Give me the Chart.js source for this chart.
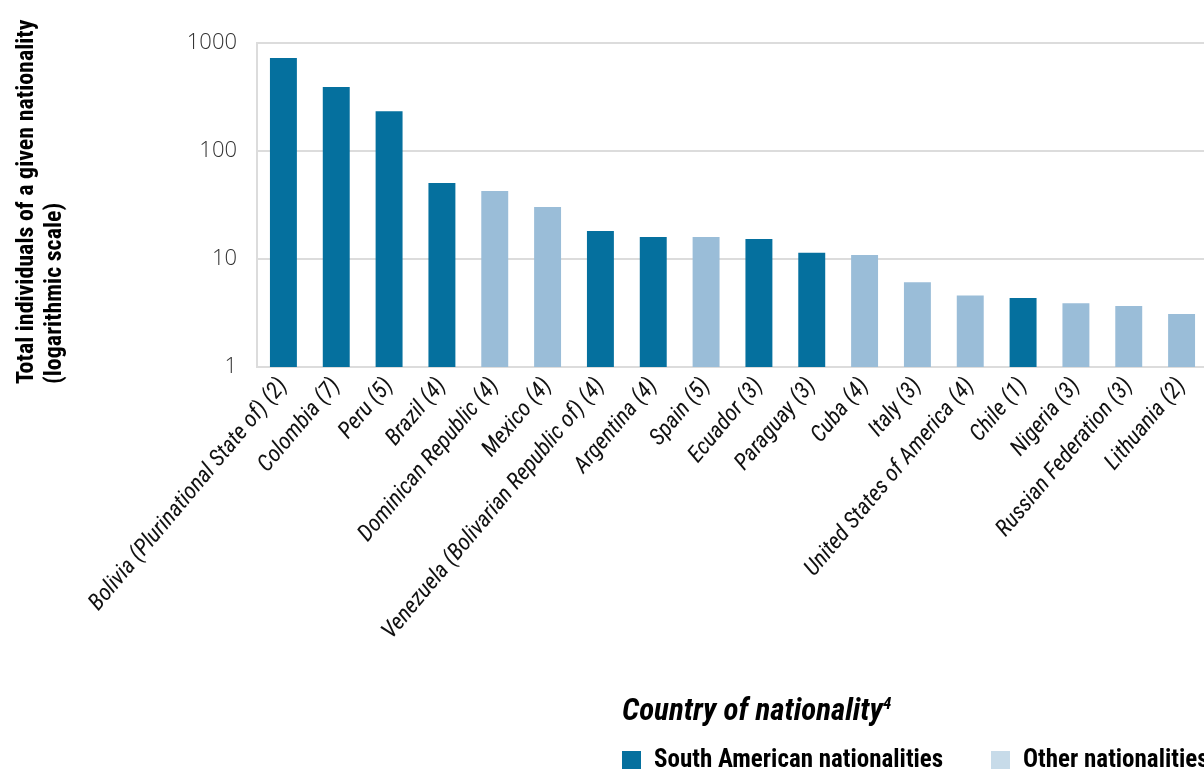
<!DOCTYPE html>
<html>
<head>
<meta charset="utf-8">
<script src="https://cdn.jsdelivr.net/npm/chart.js@4.4.1/dist/chart.umd.min.js"></script>
<style>
  html, body { margin: 0; padding: 0; background: #fff; overflow: hidden; width: 1204px; height: 769px; }
  #wrap { position: absolute; left: 0; top: 0; width: 1214px; height: 769px; }
  .narrow { font-family: "Roboto Condensed", "Liberation Sans Narrow", "Arial Narrow", "Liberation Sans", sans-serif; font-weight: bold; color: #000; line-height: 1; }
  #xtitle { position: absolute; left: 622px; top: 694px; font-size: 31px; font-style: italic; white-space: nowrap; }
  #xtitle sup { font-size: 17px; vertical-align: top; position: relative; top: 1px; }
  .leg { position: absolute; top: 746px; font-size: 25px; white-space: nowrap; }
  .sw { position: absolute; width: 19px; height: 19px; top: 751px; }
</style>
</head>
<body>
<div id="wrap"><canvas id="c" width="1214" height="769"></canvas></div>
<div id="xtitle" class="narrow">Country of nationality<sup>4</sup></div>
<div class="sw" style="left:622px;background:#05709e"></div>
<div class="leg narrow" style="left:654px">South American nationalities</div>
<div class="sw" style="left:991px;background:#c7dbe9"></div>
<div class="leg narrow" style="left:1023px">Other nationalities</div>
<script>
const categories = [
  "Bolivia (Plurinational State of) (2)", "Colombia (7)", "Peru (5)", "Brazil (4)",
  "Dominican Republic (4)", "Mexico (4)", "Venezuela (Bolivarian Republic of) (4)",
  "Argentina (4)", "Spain (5)", "Ecuador (3)", "Paraguay (3)", "Cuba (4)", "Italy (3)",
  "United States of America (4)", "Chile (1)", "Nigeria (3)", "Russian Federation (3)",
  "Lithuania (2)"
];
const totals = [725, 391, 233, 50.6, 42.6, 30.3, 18.2, 16, 16, 15.3, 11.4, 10.9, 6.1, 4.6, 4.35, 3.9, 3.67, 3.1];
const southAmerican = [1, 1, 1, 1, 0, 0, 1, 1, 0, 1, 1, 0, 0, 0, 1, 0, 0, 0];
const yTicks = [1, 10, 100, 1000];
const yTitle = ["Total individuals of a given nationality", "(logarithmic scale)"];

const DARK = "#05709e", LIGHT = "#9abdd8";
const narrow = '"Roboto Condensed", "Liberation Sans Narrow", "Arial Narrow", "Liberation Sans", sans-serif';

// Y-axis title drawn left-aligned (reading direction) starting just below the axis bottom
const yTitlePlugin = {
  id: "yTitleStart",
  afterDraw(chart) {
    const ctx = chart.ctx;
    const y = chart.scales.y;
    ctx.save();
    ctx.fillStyle = "#000";
    ctx.font = "bold 24px " + narrow;
    ctx.textAlign = "left";
    ctx.textBaseline = "alphabetic";
    yTitle.forEach((line, i) => {
      ctx.save();
      ctx.translate(33 + i * 28, y.bottom + 17);
      ctx.rotate(-Math.PI / 2);
      ctx.fillText(line, 0, 0);
      ctx.restore();
    });
    ctx.restore();
  }
};

new Chart(document.getElementById("c"), {
  type: "bar",
  data: {
    labels: categories,
    datasets: [{
      data: totals,
      backgroundColor: southAmerican.map(s => s ? DARK : LIGHT),
      borderWidth: 0,
      barPercentage: 0.51,
      categoryPercentage: 1.0
    }]
  },
  plugins: [yTitlePlugin],
  options: {
    responsive: false,
    animation: false,
    devicePixelRatio: 1,
    layout: { padding: { top: 43, right: 6, bottom: 82, left: 0 } },
    plugins: { legend: { display: false }, tooltip: { enabled: false } },
    scales: {
      x: {
        grid: { display: false, drawTicks: false },
        border: { display: true, color: "#dcdcdc", width: 2 },
        ticks: {
          minRotation: 50, maxRotation: 50, autoSkip: false, padding: 6,
          color: "#111",
          font: { family: narrow, size: 23, style: "italic" }
        },
        afterFit: s => { s.height = 320; }
      },
      y: {
        type: "logarithmic",
        min: 1, max: 1000,
        afterBuildTicks: s => { s.ticks = yTicks.map(v => ({ value: v })); },
        grid: { color: "#dcdcdc", lineWidth: 2, drawTicks: false },
        border: { display: true, color: "#dcdcdc", width: 2 },
        ticks: {
          padding: 20, color: "#333",
          font: { family: '"Open Sans", "Noto Sans", sans-serif', size: 22, weight: 300 },
          callback: v => String(v)
        },
        title: { display: false },
        afterFit: s => { s.width = 257; }
      }
    }
  }
});
</script>
</body>
</html>
